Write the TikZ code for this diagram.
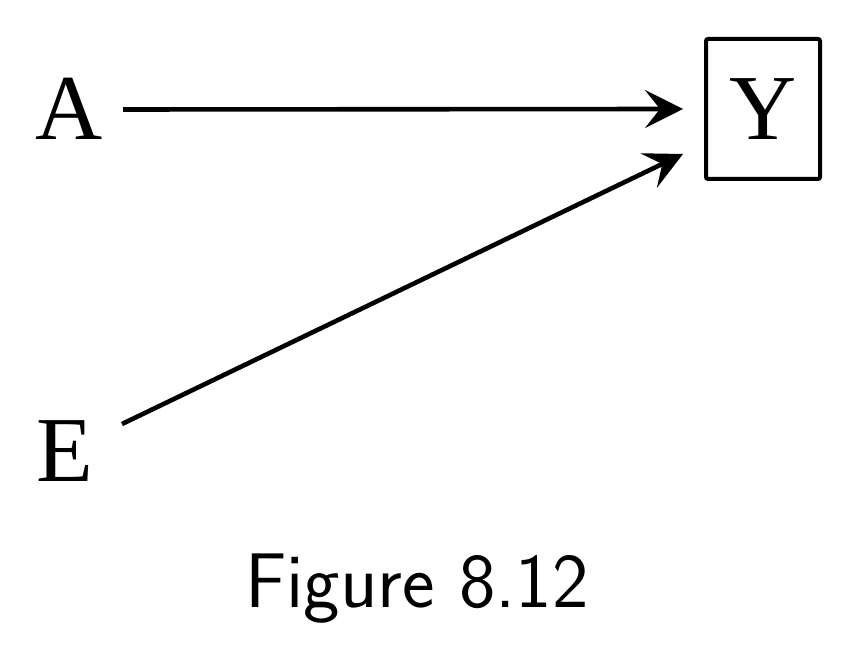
\documentclass[tikz,border=0pt]{standalone}
\usepackage{fontspec}
\newfontfamily\tnr{Liberation Serif}
\usetikzlibrary{arrows.meta}
\begin{document}
\begin{tikzpicture}[x=1pt,y=1pt,
  letter/.style={font=\tnr\fontsize{93}{93}\selectfont, inner sep=0pt, text height=61pt, text depth=0pt},
  arr/.style={line width=4.6pt, -{Stealth[length=38pt,width=38pt,inset=15pt]}}]
\useasboundingbox (0,0) rectangle (848,658);
\node[letter] (A) at (69.5,548.5) {A};
\node[letter] (E) at (64.5,207) {E};
\node[letter, draw, line width=4pt, rounded corners=2pt, minimum width=114pt, minimum height=140pt] (Y) at (763,549) {Y};
\node[font=\sffamily\fontsize{77.5}{77.5}\selectfont, anchor=base, inner sep=0pt] (cap) at (417,50) {Figure 8.12};
\draw[arr] ([xshift=53.5pt]A.center) -- ([xshift=-21pt]Y.west);
\draw[arr] ([shift={(57.5pt,27pt)}]E.center) -- ([shift={(-21pt,-45pt)}]Y.west);
\end{tikzpicture}
\end{document}
